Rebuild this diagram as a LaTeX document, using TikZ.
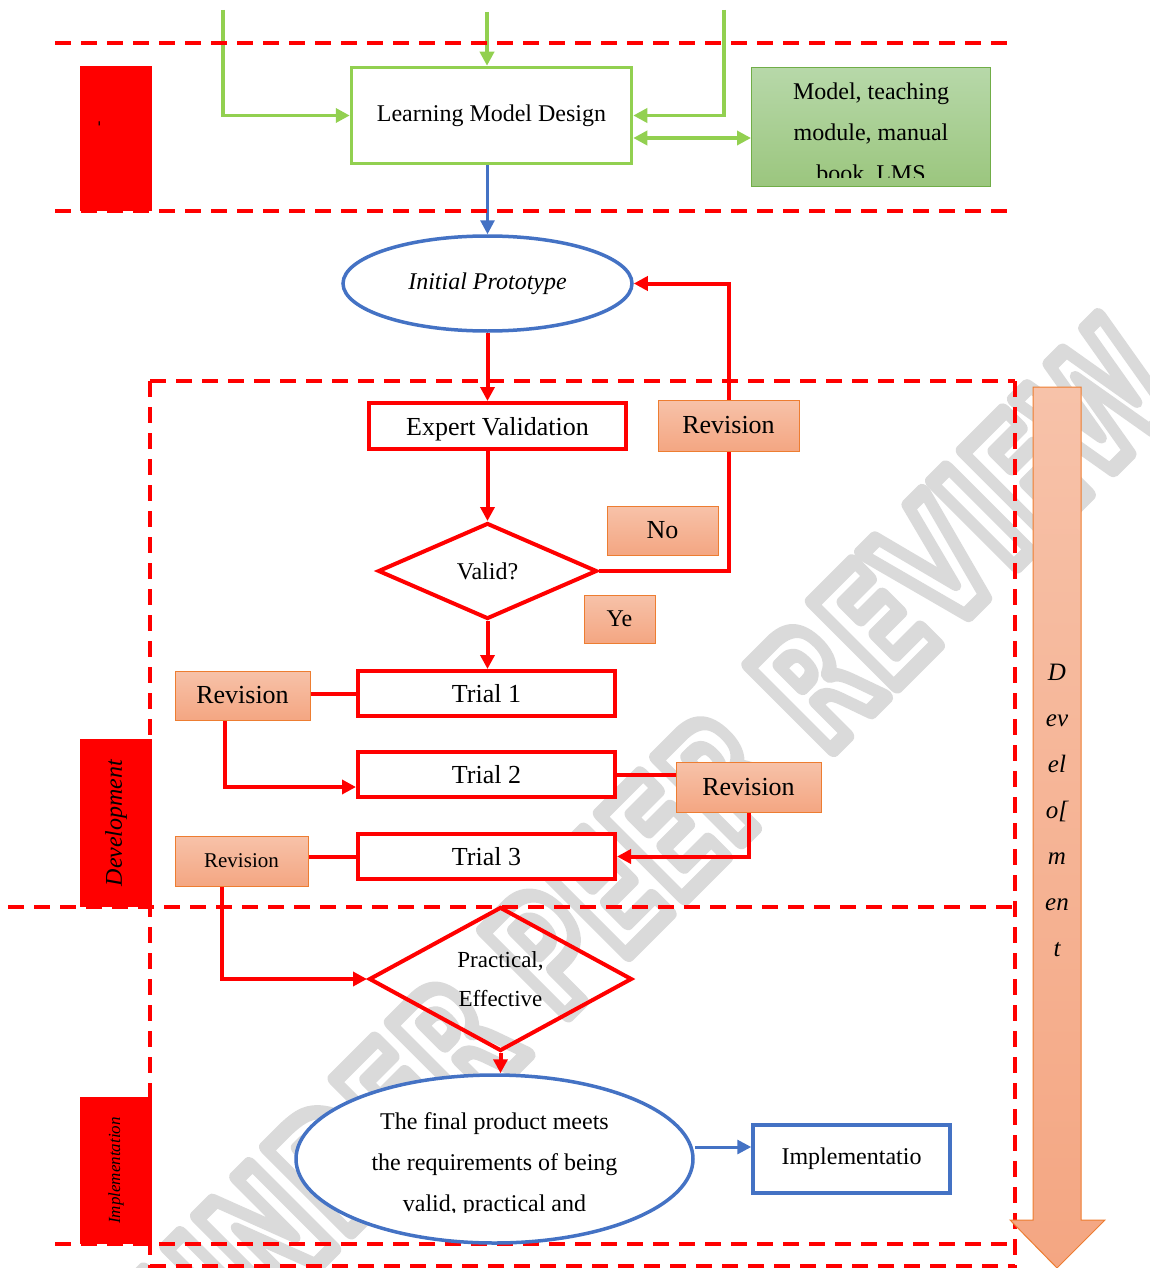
\documentclass[tikz,border=0pt]{standalone}
\usepackage{fontspec}
\setmainfont{Liberation Serif}
\newfontfamily\wmfont{DejaVu Sans}
\usetikzlibrary{shapes.geometric,arrows.meta,backgrounds}

\pgfdeclarelayer{wm}
\pgfsetlayers{wm,background,main}

\definecolor{lgreen}{HTML}{92D050}
\definecolor{dgreen}{HTML}{70AD47}
\definecolor{bblue}{HTML}{4472C4}
\definecolor{rorange}{HTML}{ED7D31}
\definecolor{pinktop}{HTML}{F7C2A9}
\definecolor{pinkbot}{HTML}{F4A682}
\definecolor{gtop}{HTML}{B7D8A9}
\definecolor{gbot}{HTML}{9BC67E}
\definecolor{wmgray}{HTML}{DADADA}

\tikzset{
  zone/.style={red, line width=3.5pt, dash pattern=on 16pt off 10pt},
  phase/.style={fill=red, inner sep=0pt, rotate=90, minimum height=72pt},
  stage/.style={draw=red, line width=4pt, fill=white, inner sep=0pt, text depth=0pt, font=\fontsize{26}{30}\selectfont},
  revbox/.style={draw=rorange, line width=1pt, top color=pinktop, bottom color=pinkbot, inner sep=0pt, font=\fontsize{26}{30}\selectfont},
  question/.style={diamond, draw=red, line width=4pt, inner sep=0pt},
  redline/.style={red, line width=4pt},
  redarrow/.style={redline, ->},
  greenarrow/.style={lgreen, line width=3.5pt, ->},
  bluearrow/.style={bblue, line width=3pt, ->},
}

\begin{document}
\begin{tikzpicture}[x=1pt, y=-1pt, >={Triangle[length=14pt,width=14pt]}]
\useasboundingbox (0,0) rectangle (1149,1268);

% Watermark
\begin{pgfonlayer}{wm}
\node[rotate=45, text=wmgray, font=\wmfont\bfseries\fontsize{162}{162}\selectfont] (review) at (655,845)
  {\scalebox{0.72}[1]{\special{pdf:literal direct 1 j 1 J 16 w 1 Tr}UNDER PEER REVIEW\special{pdf:literal direct 0 Tr}}};
\end{pgfonlayer}

% Dashed zone lines
\draw[zone] (55,43) -- (1015,43);
\draw[zone] (55,211) -- (1015,211);
\draw[zone] (150,381) -- (1015,381);
\draw[zone] (8,907) -- (1015,907);
\draw[zone] (55,1244) -- (1015,1244);
\draw[zone] (150,1266) -- (1015,1266);
\draw[zone] (150,381) -- (150,1268);
\draw[zone] (1015,381) -- (1015,1268);

% Phase labels
\node[phase, minimum width=145pt] (design) at (116,138.5) {};
\node[rotate=90, font=\fontsize{16}{16}\selectfont] (designmark) at (101,124) {-};
\node[phase, minimum width=168pt, font=\itshape\fontsize{24}{24}\selectfont] (devel) at (116,823) {Development};
\node[phase, minimum width=147pt, font=\itshape\fontsize{17}{17}\selectfont] (implph) at (116,1170.5) {Implementation};

% Development arrow
\path[draw=rorange, line width=1pt, top color=pinktop, bottom color=pinkbot]
  (1033,387) -- (1081,387) -- (1081,1220) -- (1105,1220) -- (1057,1268) -- (1010,1220) -- (1033,1220) -- cycle;
\node[align=center, font=\itshape\fontsize{25}{46}\selectfont] (devtext) at (1057,810) {D\\ev\\el\\o[\\m\\en\\t};

% Design stage
\coordinate (g1) at (223,10);
\coordinate (g2) at (487,12);
\coordinate (g3) at (724,10);
\node[draw=lgreen, line width=3.5pt, fill=white, minimum width=280pt, minimum height=96pt, inner sep=0pt,
  font=\fontsize{24}{28}\selectfont] (lmd) at (491.5,115.5) {Learning Model Design};
\node[draw=dgreen, line width=1pt, top color=gtop, bottom color=gbot, minimum width=239pt, minimum height=119pt,
  inner sep=0pt] (lms) at (871,127) {};
\begin{scope}
  \clip (751,67) rectangle (991,178);
  \node[align=center, font=\fontsize{24}{41}\selectfont] (lmstext) at (871,134) {Model, teaching\\module, manual\\book, LMS};
\end{scope}

% Development stage
\node[ellipse, draw=bblue, line width=3.5pt, fill=white, minimum width=289pt, minimum height=95pt, inner sep=0pt,
  font=\itshape\fontsize{24}{28}\selectfont] (proto) at (487.5,283.5) {Initial Prototype};
\node[stage, minimum width=257pt, minimum height=46pt] (ev) at (497.5,426) {Expert Validation};
\node[revbox, minimum width=141pt, minimum height=51pt] (rev0) at (728.5,425.5) {Revision};
\node[revbox, minimum width=111pt, minimum height=49pt] (no) at (662.5,530.5) {No};
\node[question, minimum width=219pt, minimum height=96pt, font=\fontsize{24}{28}\selectfont] (valid) at (487.5,571) {Valid?};
\node[revbox, minimum width=71pt, minimum height=48pt, font=\fontsize{24}{28}\selectfont] (yes) at (619.5,619) {Ye};

\node[stage, minimum width=257pt, minimum height=45pt] (trial1) at (486.5,693.5) {Trial 1};
\node[stage, minimum width=257pt, minimum height=45pt] (trial2) at (486.5,774.5) {Trial 2};
\node[stage, minimum width=257pt, minimum height=45pt] (trial3) at (486.5,856.5) {Trial 3};
\node[revbox, minimum width=135pt, minimum height=49pt] (rev1) at (242.5,695.5) {Revision};
\node[revbox, minimum width=145pt, minimum height=50pt] (rev2) at (748.5,787) {Revision};
\node[revbox, minimum width=133pt, minimum height=50pt, font=\fontsize{21}{24}\selectfont] (rev3) at (241.5,861) {Revision};

% Implementation stage
\node[question, minimum width=263pt, minimum height=144pt, align=center, font=\fontsize{23}{39}\selectfont] (prac) at (500.5,979) {Practical,\\Effective};
\node[ellipse, draw=bblue, line width=3.5pt, fill=white, minimum width=397pt, minimum height=168pt, inner sep=0pt] (final) at (494.5,1159) {};
\begin{scope}
  \clip (296,1075) rectangle (693,1212);
  \node[align=center, font=\fontsize{24}{41}\selectfont] (finaltext) at (494.5,1165) {The final product meets\\the requirements of being\\valid, practical and};
\end{scope}
\node[draw=bblue, line width=3.5pt, fill=white, minimum width=197pt, minimum height=68pt, inner sep=0pt,
  font=\fontsize{24}{28}\selectfont] (impl) at (851.5,1159) {Implementatio};

% Connectors
\begin{scope}[on background layer]
  \draw[greenarrow] (g1) |- (lmd.west);
  \draw[greenarrow] (g2) -- (g2 |- lmd.north);
  \draw[greenarrow] (g3) |- (lmd.east);
  \draw[greenarrow, <->] ([yshift=-22.5pt]lmd.east) -- ([yshift=-11pt]lms.west);
  \draw[bluearrow] (lmd.south -| proto.north) -- (proto.north);

  \draw[redarrow] (proto.south) -- (proto.south |- ev.north);
  \draw[redarrow] (ev.south -| valid.north) -- (valid.north);
  \draw[redarrow] (valid.east) -| (rev0.center) |- (proto.east);
  \draw[redarrow] (valid.south) -- (valid.south |- trial1.north);

  \draw[redline] (rev1.east |- trial1.west) -- (trial1.west);
  \draw[redarrow] ([xshift=-18pt]rev1.south) |- ([yshift=-12.5pt]trial2.west);
  \draw[redline] (trial2.east) -- (trial2.east -| rev2.west);
  \draw[redarrow] (rev2.south) |- (trial3.east);
  \draw[redline] (rev3.east |- trial3.west) -- (trial3.west);
  \draw[redarrow] ([xshift=-20pt]rev3.south) |- (prac.west);

  \draw[redarrow] (prac.south) -- (prac.south |- final.north);
  \draw[bluearrow] ([yshift=12pt]final.east) -- ([yshift=12pt]final.east -| impl.west);
\end{scope}
\end{tikzpicture}
\end{document}
